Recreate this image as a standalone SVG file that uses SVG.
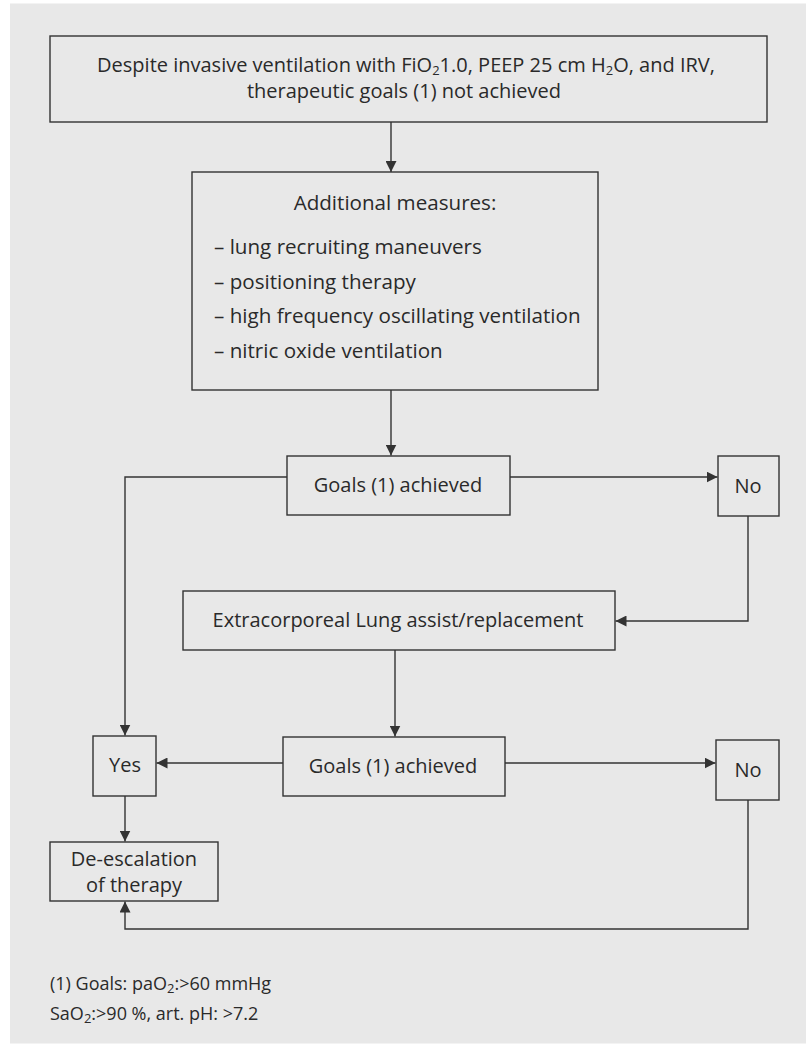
<svg xmlns="http://www.w3.org/2000/svg" width="806" height="1048" viewBox="0 0 806 1048">
<defs>
<style>
.bx{fill:none;stroke:#333;stroke-width:1.4}
.ln{fill:none;stroke:#333;stroke-width:1.4}
text{font-family:"Open Sans","Noto Sans","Liberation Sans",sans-serif;fill:#2a2a2a}
.t20{font-size:20px}
.t18{font-size:18px}
.m{font-size:20.6px}
.c{text-anchor:middle}
.sub{font-size:13px}
</style>
<marker id="ah" markerUnits="userSpaceOnUse" markerWidth="11" markerHeight="11" refX="11" refY="5.5" orient="auto">
<path d="M0,0 L11,5.5 L0,11 z" fill="#333"/>
</marker>
</defs>
<rect x="10" y="3.5" width="796" height="1040" fill="#e8e8e8"/>

<g id="connectors">
<path class="ln" d="M391,122 V172" marker-end="url(#ah)"/>
<path class="ln" d="M391,390 V455.5" marker-end="url(#ah)"/>
<path class="ln" d="M287,477 H125 V735.5" marker-end="url(#ah)"/>
<path class="ln" d="M510,477 H717.5" marker-end="url(#ah)"/>
<path class="ln" d="M748,516 V621 H615.5" marker-end="url(#ah)"/>
<path class="ln" d="M395,650 V736.5" marker-end="url(#ah)"/>
<path class="ln" d="M283,763 H156.5" marker-end="url(#ah)"/>
<path class="ln" d="M505,763 H715.5" marker-end="url(#ah)"/>
<path class="ln" d="M125,796 V841.5" marker-end="url(#ah)"/>
<path class="ln" d="M748,800 V929 H125 V901.5" marker-end="url(#ah)"/>
</g>

<g id="node-start">
<rect class="bx" x="50" y="36" width="717" height="86"/>
<text class="t20 c" x="406" y="72">Despite invasive ventilation with FiO<tspan class="sub" dy="2.5">2</tspan><tspan dy="-2.5">1.0, PEEP 25 cm H</tspan><tspan class="sub" dy="2.5">2</tspan><tspan dy="-2.5">O, and IRV,</tspan></text>
<text class="t20 c" x="404" y="98">therapeutic goals (1) not achieved</text>
</g>

<g id="node-measures">
<rect class="bx" x="192" y="172" width="406" height="218"/>
<text class="m c" x="395" y="210">Additional measures:</text>
<text class="m" x="214" y="254">– lung recruiting maneuvers</text>
<text class="m" x="214" y="289">– positioning therapy</text>
<text class="m" x="214" y="323">– high frequency oscillating ventilation</text>
<text class="m" x="214" y="358">– nitric oxide ventilation</text>
</g>

<g id="node-goals1">
<rect class="bx" x="287" y="456" width="223" height="59"/>
<text class="t20 c" x="398" y="492">Goals (1) achieved</text>
</g>

<g id="node-no1">
<rect class="bx" x="718" y="456" width="61" height="60"/>
<text class="t20 c" x="748" y="493">No</text>
</g>

<g id="node-ecla">
<rect class="bx" x="183" y="591" width="432" height="59"/>
<text class="t20 c" x="398" y="627">Extracorporeal Lung assist/replacement</text>
</g>

<g id="node-goals2">
<rect class="bx" x="283" y="737" width="222" height="59"/>
<text class="t20 c" x="393" y="773">Goals (1) achieved</text>
</g>

<g id="node-no2">
<rect class="bx" x="716" y="740" width="63" height="60"/>
<text class="t20 c" x="748" y="777">No</text>
</g>

<g id="node-yes">
<rect class="bx" x="93" y="736" width="63" height="60"/>
<text class="t20 c" x="125" y="772">Yes</text>
</g>

<g id="node-deesc">
<rect class="bx" x="50" y="842" width="168" height="59"/>
<text class="t20 c" x="134" y="866">De-escalation</text>
<text class="t20 c" x="134" y="892">of therapy</text>
</g>

<g id="footnote">
<text class="t18" x="50" y="990">(1) Goals: paO<tspan class="sub" dy="3">2</tspan><tspan dy="-3">:&gt;60 mmHg</tspan></text>
<text class="t18" x="50" y="1020">SaO<tspan class="sub" dy="3">2</tspan><tspan dy="-3">:&gt;90 %, art. pH: &gt;7.2</tspan></text>
</g>
</svg>
